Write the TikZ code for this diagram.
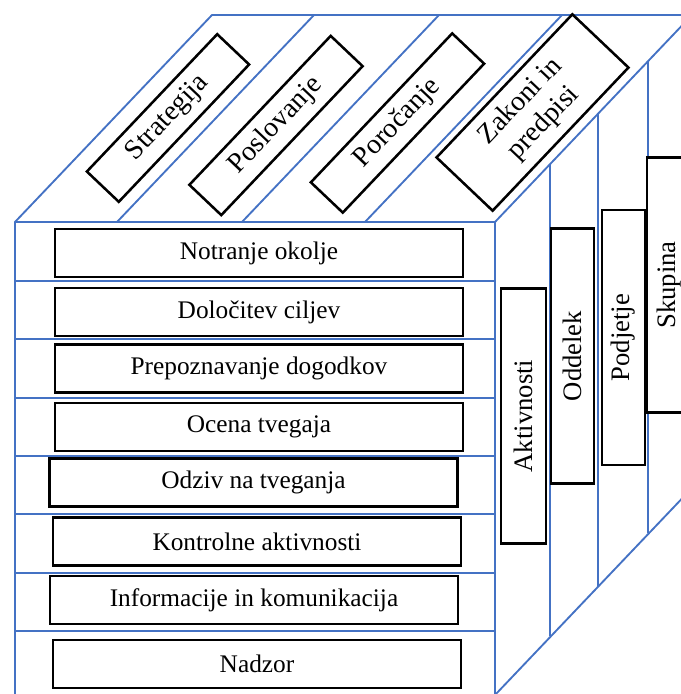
\documentclass[tikz,border=0pt]{standalone}
\usepackage{fontspec}
\setmainfont{Liberation Serif}
\definecolor{cubeBlue}{HTML}{4472C4}

\begin{document}
\begin{tikzpicture}[
  x=0.75pt, y=-0.75pt,
  edge/.style={draw=cubeBlue, line width=1.4pt, line join=round},
  part/.style={draw=black, fill=white, line width=1.9pt, inner sep=0pt, align=center, font=\fontsize{19}{22}\selectfont},
  row/.style={part, minimum width=306pt, minimum height=36pt},
  facet/.style={part, rotate=46.5, minimum height=33pt, font=\fontsize{21}{24}\selectfont},
  unit/.style={part, rotate=90, minimum width=191pt, minimum height=33pt, font=\fontsize{20}{22}\selectfont}
]
  \useasboundingbox (0,0) rectangle (681,694);
  \clip (0,0) rectangle (681,694);

  % front face
  \draw[edge] (15,222) rectangle (495,695);
  \foreach \y in {281,339,398,456,514,573,631}
    \draw[edge] (15,\y) -- (495,\y);

  % top face
  \draw[edge] (15,222) -- (212,15) -- (692,15) -- (495,222);
  \foreach \x in {117,242,365}
    \draw[edge] (\x,222) -- ({\x+197},15);

  % right face
  \draw[edge] (495,695) -- (692,488);
  \draw[edge] (550,164) -- (550,636);
  \draw[edge] (598,114) -- (598,586);
  \draw[edge] (648,61) -- (648,533);

  \node[row] (okolje)   at (259,253)   {Notranje okolje};
  \node[row] (cilji)    at (259,312)   {Določitev ciljev};
  \node[row] (dogodki)  at (259,368.5) {Prepoznavanje dogodkov};
  \node[row] (ocena)    at (259,427)   {Ocena tvegaja};
  \node[row] (odziv)    at (253.5,482.5) {Odziv na tveganja};
  \node[row] (kontrole) at (257,541.5) {Kontrolne aktivnosti};
  \node[row] (info)     at (254,600)   {Informacije in komunikacija};
  \node[row] (nadzor)   at (257,664)   {Nadzor};

  \node[facet, minimum width=142pt] (strategija) at (168,118)   {Strategija};
  \node[facet, minimum width=154pt] (poslovanje) at (276,125.5) {Poslovanje};
  \node[facet, minimum width=154pt] (porocanje)  at (397.5,123) {Poročanje};
  \node[facet, minimum width=148pt, minimum height=58pt] (zakoni) at (532.5,112.5) {Zakoni in\\predpisi};

  \node[unit, minimum height=34pt] (aktivnosti) at (523.5,416) {Aktivnosti};
  \node[unit, minimum height=32pt] (oddelek)    at (572.5,356) {Oddelek};
  \node[unit, minimum height=32pt] (podjetje)   at (623.5,337.5) {Podjetje};
  \node[unit] (skupina) at (669,285) {Skupina};
\end{tikzpicture}
\end{document}
